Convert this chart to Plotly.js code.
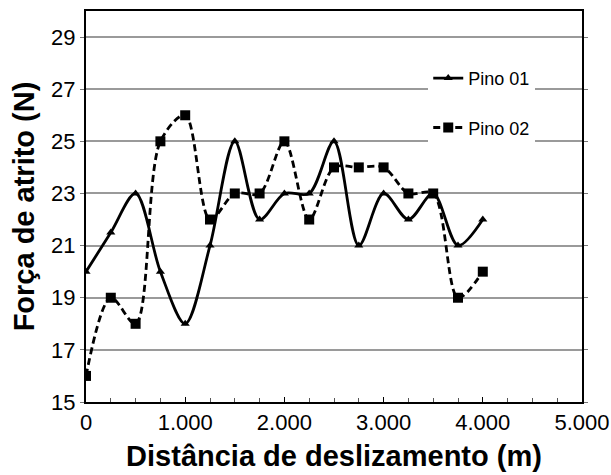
<!DOCTYPE html>
<html>
<head>
<meta charset="utf-8">
<script src="https://cdn.plot.ly/plotly-3.0.1.min.js"></script>
<style>html,body{margin:0;padding:0;background:#fff;}#chart{width:611px;height:475px;}</style>
</head>
<body>
<div id="chart"></div>
<script>
const distancia = [0, 0.25, 0.5, 0.75, 1.0, 1.25, 1.5, 1.75, 2.0, 2.25, 2.5, 2.75, 3.0, 3.25, 3.5, 3.75, 4.0];
const pino01 = [20, 21.5, 23, 20, 18, 21, 25, 22, 23, 23, 25, 21, 23, 22, 23, 21, 22];
const pino02 = [16, 19, 18, 25, 26, 22, 23, 23, 25, 22, 24, 24, 24, 23, 23, 19, 20];
const xTickVals = [0, 1, 2, 3, 4, 5];
const xTickText = ["0", "1.000", "2.000", "3.000", "4.000", "5.000"];
const yTickVals = [15, 17, 19, 21, 23, 25, 27, 29];

const FONT = "Liberation Sans, Arial, sans-serif";

const traces = [
  {
    x: distancia, y: pino01, name: "Pino 01", legendgroup: "a", type: "scatter", mode: "lines+markers",
    line: {color: "#000", width: 2.8, shape: "spline", smoothing: 0.9},
    marker: {symbol: "triangle-up", size: 8, color: "#000"}
  },
  {
    x: distancia, y: pino02, name: "Pino 02", legendgroup: "b", type: "scatter", mode: "lines+markers",
    line: {color: "#000", width: 2.8, shape: "spline", smoothing: 0.9, dash: "7px,4px"},
    marker: {symbol: "square", size: 10, color: "#000"}
  }
];

const layout = {
  width: 611, height: 475,
  margin: {l: 86, r: 29, t: 11, b: 73},
  paper_bgcolor: "#fff", plot_bgcolor: "#fff",
  font: {family: FONT, color: "#000"},
  showlegend: true,
  legend: {
    x: 0.69, y: 0.875, xanchor: "left", yanchor: "top",
    bgcolor: "#fff", borderwidth: 0,
    font: {size: 18, color: "#000", family: FONT},
    traceorder: "grouped", tracegroupgap: 23
  },
  xaxis: {
    range: [0, 5], tickvals: xTickVals, ticktext: xTickText,
    showgrid: false, zeroline: false,
    showline: true, linecolor: "#000", linewidth: 2, mirror: true,
    ticks: "inside", ticklen: 5, tickcolor: "#000", tickwidth: 1,
    minor: {dtick: 0.25, ticks: "inside", ticklen: 4, tickcolor: "#555", showgrid: false},
    tickfont: {size: 22, color: "#000", family: FONT},
    title: {text: "Distância de deslizamento (m)", font: {size: 29, color: "#000", family: FONT, weight: "bold"}, standoff: 11}
  },
  yaxis: {
    range: [15, 30], tickvals: yTickVals,
    showgrid: true, gridcolor: "#9a9a9a", gridwidth: 2,
    zeroline: false,
    showline: true, linecolor: "#000", linewidth: 2, mirror: "ticks",
    ticks: "outside", ticklen: 4, tickcolor: "#777", tickwidth: 1,
    tickfont: {size: 22, color: "#000", family: FONT},
    title: {text: "Força de atrito (N)", font: {size: 29, color: "#000", family: FONT, weight: "bold"}, standoff: 8}
  }
};

Plotly.newPlot("chart", traces, layout, {staticPlot: true, displayModeBar: false});
</script>
</body>
</html>
